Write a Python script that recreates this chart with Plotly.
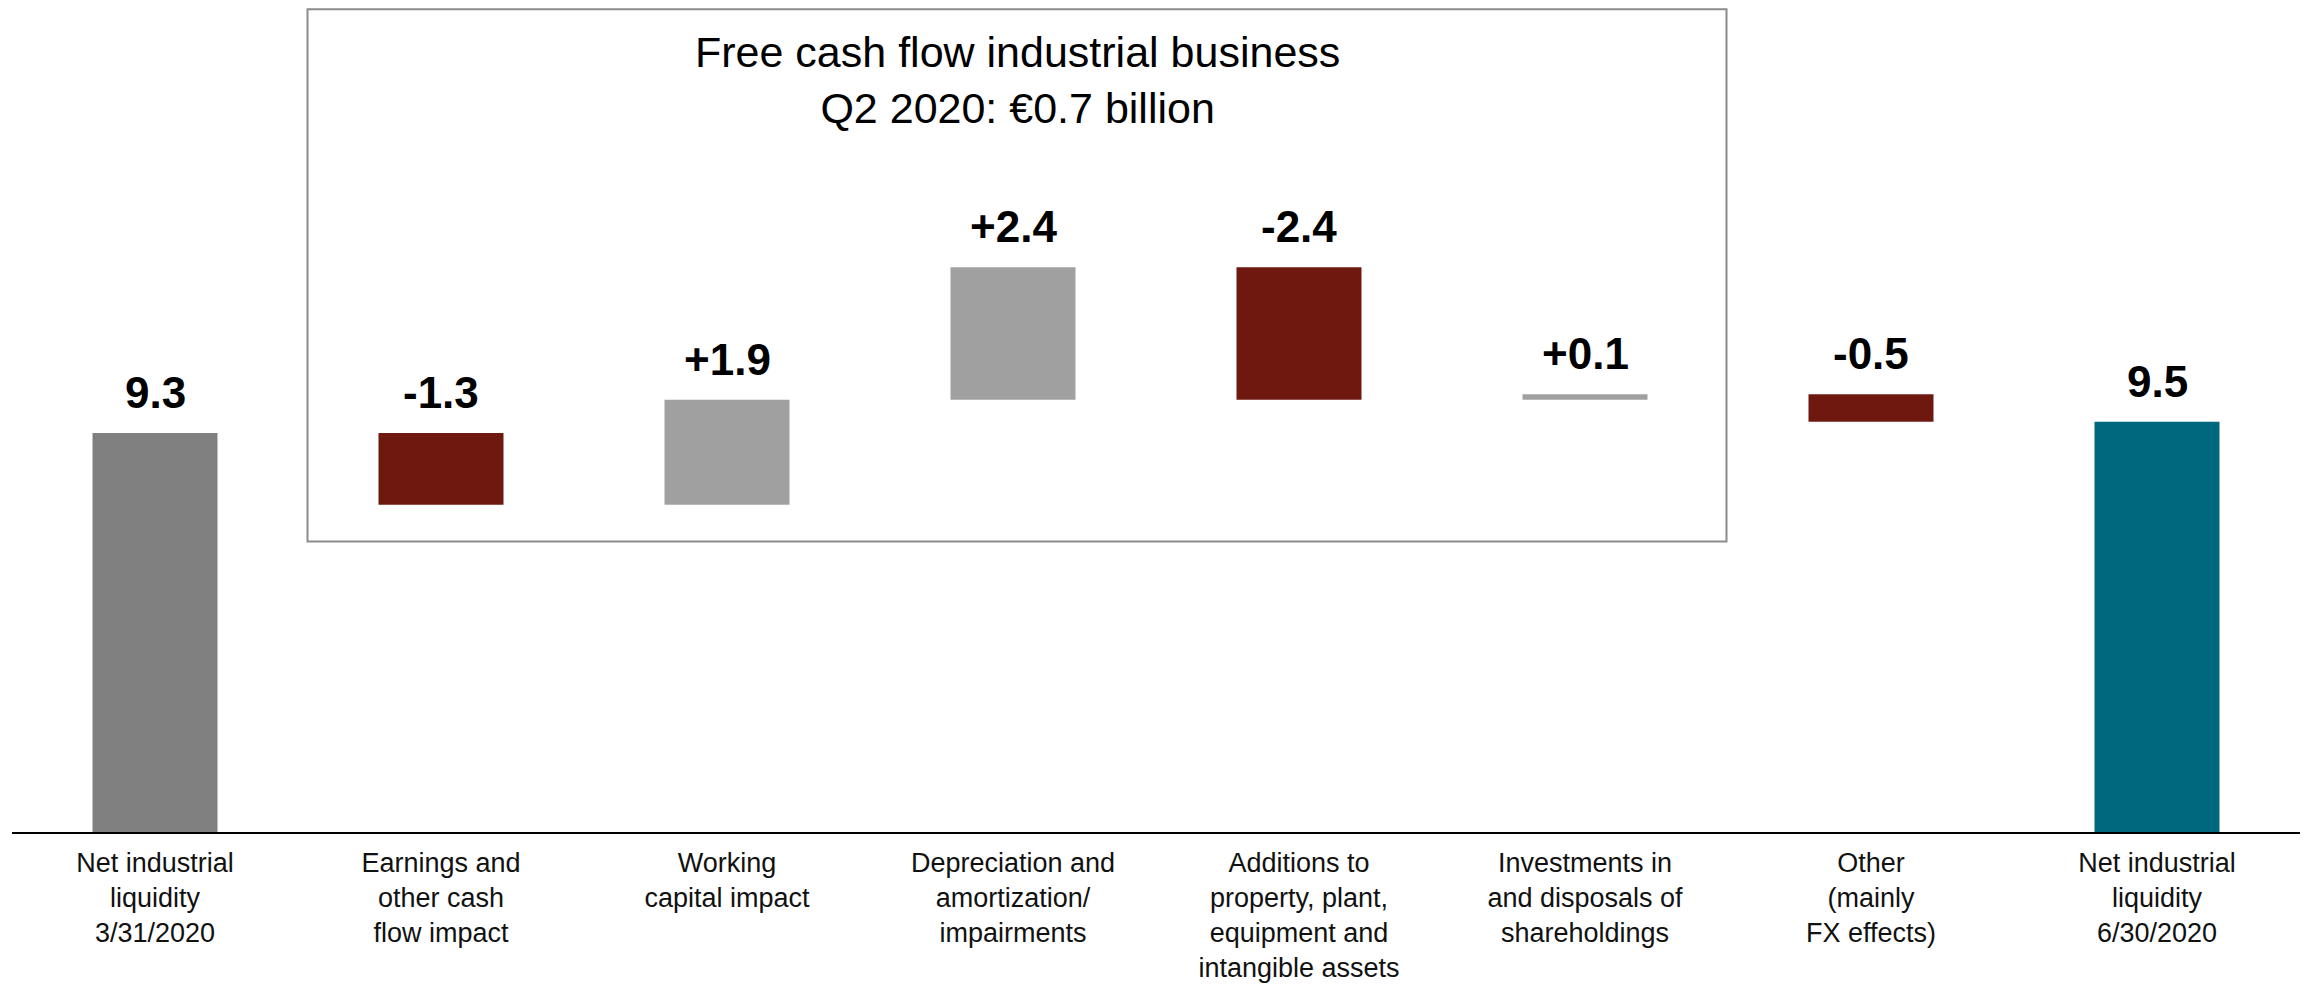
import plotly.graph_objects as go

# ---- data ----
categories = [
    "Net industrial<br>liquidity<br>3/31/2020",
    "Earnings and<br>other cash<br>flow impact",
    "Working<br>capital impact",
    "Depreciation and<br>amortization/<br>impairments",
    "Additions to<br>property, plant,<br>equipment and<br>intangible assets",
    "Investments in<br>and disposals of<br>shareholdings",
    "Other<br>(mainly<br>FX effects)",
    "Net industrial<br>liquidity<br>6/30/2020",
]
start_value = 9.3
deltas = [-1.3, 1.9, 2.4, -2.4, 0.1, -0.5]
end_value = 9.5
value_labels = ["9.3", "-1.3", "+1.9", "+2.4", "-2.4", "+0.1", "-0.5", "9.5"]
box_title = "Free cash flow industrial business<br>Q2 2020: €0.7 billion"

# ---- styles ----
C_TOTAL_START = "#808080"
C_NEG = "#6E1810"
C_POS = "#A0A0A0"
C_TOTAL_END = "#00687E"
FONT = "Liberation Sans, Arial, sans-serif"

# waterfall geometry from data
bases, heights, colors, tops = [0], [start_value], [C_TOTAL_START], [start_value]
running = start_value
for d in deltas:
    bases.append(running)
    heights.append(d)
    colors.append(C_POS if d >= 0 else C_NEG)
    running = running + d
    tops.append(max(running, running - d))
bases.append(0)
heights.append(end_value)
colors.append(C_TOTAL_END)
tops.append(end_value)

xs = list(range(len(categories)))

fig = go.Figure()
fig.add_trace(go.Bar(
    x=xs, y=heights, base=bases,
    marker=dict(color=colors, line=dict(width=0)),
    width=0.437,
    hoverinfo="skip",
    showlegend=False,
))

for x, t, lab in zip(xs, tops, value_labels):
    fig.add_annotation(
        x=x, y=t, xref="x", yref="y", text=lab, showarrow=False,
        yanchor="bottom", xanchor="center", yshift=14,
        font=dict(family=FONT, size=44, color="#000000", weight="bold"),
    )

# page has an 8px body margin; compensate so content lands where intended
OFF = 8
W, H = 2312, 984
ml = 12 - OFF
pw = 2288
mr = W - ml - pw
mt = 0
ph = 832 - OFF
mb = H - mt - ph
y_bottom = 2.07
px_per_unit = 55.2
y_top = y_bottom + ph / px_per_unit

# framed box around the free cash flow components (figure pixel coords)
bx0, bx1, by_top, by_bot = 307.5 - OFF, 1726.5 - OFF, 1.2, 541.5 - OFF
fig.add_shape(
    type="rect", xref="paper", yref="paper",
    x0=(bx0 - ml) / pw, x1=(bx1 - ml) / pw,
    y0=(ph - (by_bot - mt)) / ph, y1=(ph - (by_top - mt)) / ph,
    line=dict(color="#8C8C8C", width=2), fillcolor="rgba(0,0,0,0)", layer="below",
)
fig.add_annotation(
    xref="paper", yref="paper",
    x=((bx0 + bx1) / 2 - ml) / pw, y=(ph - (80.3 - OFF - mt)) / ph,
    text=box_title, showarrow=False, xanchor="center", yanchor="middle",
    font=dict(family=FONT, size=43, color="#000000"),
)

fig.update_layout(
    width=W, height=H,
    margin=dict(l=ml, r=mr, t=mt, b=mb, pad=0),
    paper_bgcolor="white", plot_bgcolor="white",
    xaxis=dict(
        tickmode="array", tickvals=xs, ticktext=categories,
        range=[-0.5, len(categories) - 0.5],
        showline=True, linecolor="#000000", linewidth=1.5,
        showgrid=False, zeroline=False, ticks="",
        ticklabelstandoff=6,
        tickfont=dict(family=FONT, size=27, color="#111111"),
        fixedrange=True,
    ),
    yaxis=dict(
        range=[y_bottom, y_top], visible=False, showgrid=False, zeroline=False,
        fixedrange=True,
    ),
)

fig.write_html("out.html")
